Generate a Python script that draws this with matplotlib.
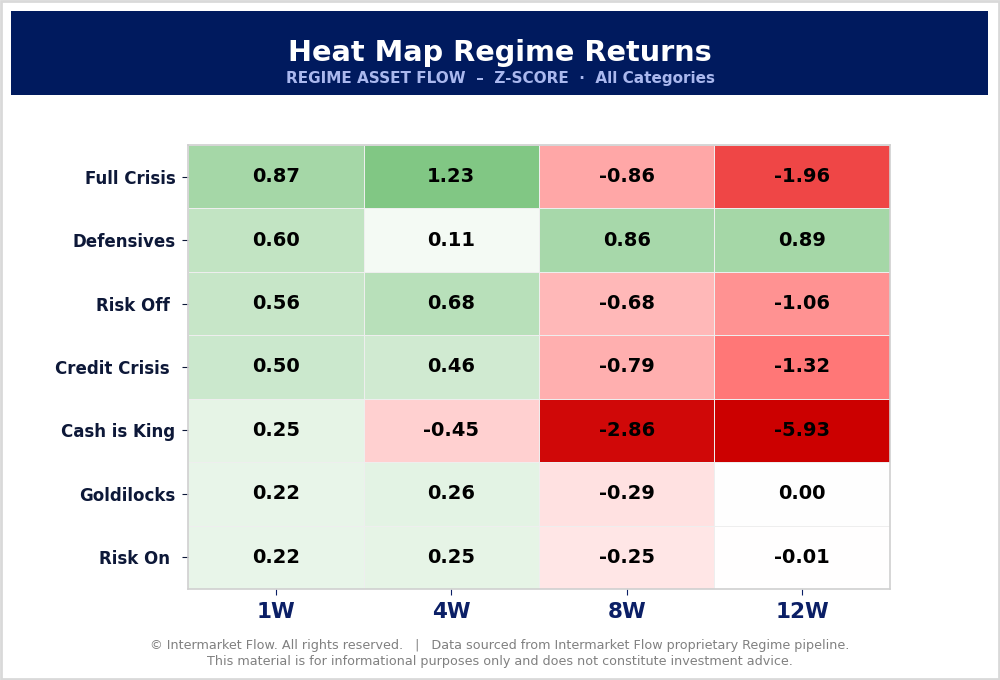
import numpy as np
import matplotlib
matplotlib.use('Agg')
import matplotlib.pyplot as plt
from matplotlib.colors import LinearSegmentedColormap, Normalize
from matplotlib.patches import Rectangle

plt.rcParams['font.family'] = ['DejaVu Sans']

# regime rows and horizon columns
regimes = ['Full Crisis', 'Defensives', 'Risk Off ', 'Credit Crisis ', 'Cash is King', 'Goldilocks', 'Risk On ']
horizons = ['1W', '4W', '8W', '12W']

full_crisis = [0.87, 1.23, -0.86, -1.96]
defensives = [0.60, 0.11, 0.86, 0.89]
risk_off = [0.56, 0.68, -0.68, -1.06]
credit_crisis = [0.50, 0.46, -0.79, -1.32]
cash_is_king = [0.25, -0.45, -2.86, -5.93]
goldilocks = [0.22, 0.26, -0.29, 0.00]
risk_on = [0.22, 0.25, -0.25, -0.01]

z = np.array([full_crisis, defensives, risk_off, credit_crisis, cash_is_king, goldilocks, risk_on])

cmap = LinearSegmentedColormap.from_list(
    'regime', [(0.0, '#cc0000'), (0.25, '#ff6666'), (0.5, '#ffffff'), (0.75, '#66bb6a'), (1.0, '#1b5e20')])
norm = Normalize(vmin=-3, vmax=3)

fig = plt.figure(figsize=(10, 6.8), dpi=100)
fig.patch.set_facecolor('white')

# outer frame
fig.add_artist(Rectangle((0.001, 0.0015), 0.998, 0.997, transform=fig.transFigure,
                         fill=False, edgecolor='#d9d9d9', linewidth=2))
# header band
fig.add_artist(Rectangle((0.011, 1 - 95 / 680), 0.977, 84 / 680, transform=fig.transFigure,
                         facecolor='#001a5e', edgecolor='none'))
fig.text(0.5, 1 - 53 / 680, 'Heat Map Regime Returns', ha='center', va='center',
         color='white', fontsize=20.7, fontweight='bold')
fig.text(0.5, 1 - 78 / 680, 'REGIME ASSET FLOW  \u2013  Z-SCORE  \u00b7  All Categories', ha='center',
         va='center', color='#aab8ee', fontsize=11, fontweight='bold')

ax = fig.add_axes([0.188, 1 - 589 / 680, 0.702, 444 / 680])
ax.pcolormesh(z, cmap=cmap, norm=norm, edgecolors='#eeeeee', linewidth=0.5)
ax.set_xlim(0, len(horizons))
ax.set_ylim(len(regimes), 0)

for i in range(z.shape[0]):
    for j in range(z.shape[1]):
        ax.text(j + 0.5, i + 0.5, f'{z[i, j]:.2f}', ha='center', va='center',
                fontsize=14, fontweight='bold', color='black')

ax.set_xticks(np.arange(len(horizons)) + 0.5)
ax.set_xticklabels(horizons, fontsize=15.5, fontweight='bold', color='#0b1f66')
ax.set_yticks(np.arange(len(regimes)) + 0.5)
ax.set_yticklabels(regimes, fontsize=12, fontweight='bold', color='#0d1838')
ax.tick_params(axis='x', length=4, color='#0b1f66', pad=5)
ax.tick_params(axis='y', length=4, color='#0d1838', pad=5)
for s in ax.spines.values():
    s.set_edgecolor('#d0d0d0')
    s.set_linewidth(1.2)

fig.text(0.5, 1 - 646 / 680,
         '\u00a9 Intermarket Flow. All rights reserved.   |   Data sourced from Intermarket Flow proprietary Regime pipeline.',
         ha='center', va='center', color='#808080', fontsize=9.2)
fig.text(0.5, 1 - 662 / 680,
         'This material is for informational purposes only and does not constitute investment advice.',
         ha='center', va='center', color='#808080', fontsize=9.2)

fig.savefig('out.png', dpi=100)
